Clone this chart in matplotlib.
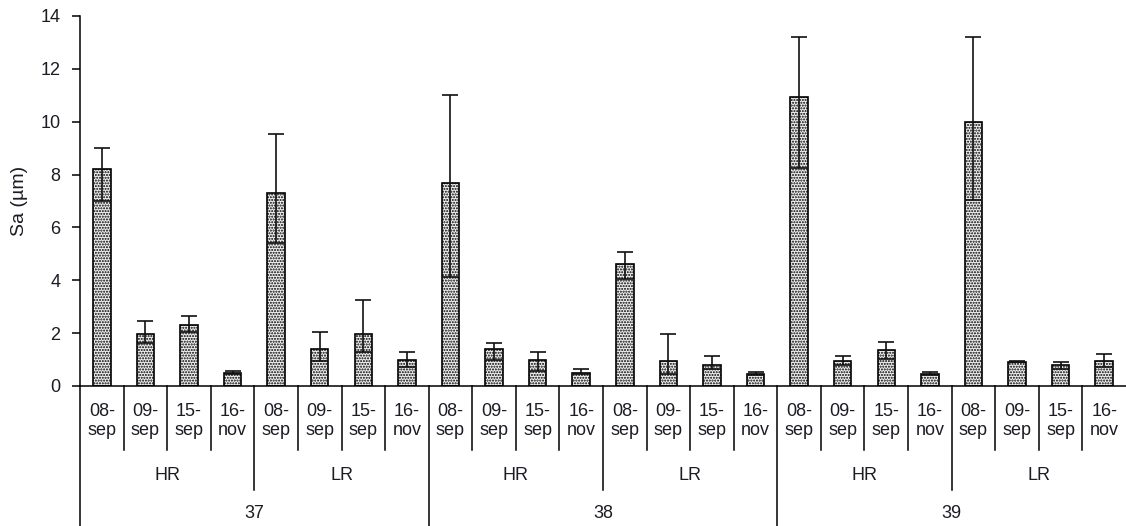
import matplotlib
matplotlib.use("Agg")
import matplotlib.pyplot as plt
import numpy as np

plt.rcParams["font.family"] = ["Liberation Sans", "DejaVu Sans"]
plt.rcParams["hatch.linewidth"] = 1.0
plt.rcParams["hatch.color"] = "#3a3a3a"

# [DATA]
groups = ["37", "38", "39"]
regimes = ["HR", "LR"]
dates = ["08-\nsep", "09-\nsep", "15-\nsep", "16-\nnov"]

sa_mean = [8.2, 1.95, 2.3, 0.5, 7.3, 1.4, 1.95, 0.98,
           7.7, 1.4, 1.0, 0.5, 4.6, 0.93, 0.78, 0.45,
           10.95, 0.93, 1.37, 0.45, 10.0, 0.92, 0.78, 0.93]
sa_high = [9.0, 2.45, 2.65, 0.55, 9.55, 2.05, 3.25, 1.27,
           11.0, 1.62, 1.28, 0.63, 5.07, 1.96, 1.12, 0.54,
           13.2, 1.12, 1.65, 0.54, 13.2, 0.93, 0.92, 1.22]
sa_low = [7.0, 1.62, 2.05, 0.44, 5.4, 0.95, 1.29, 0.72,
          4.14, 0.97, 0.55, 0.45, 4.05, 0.44, 0.64, 0.40,
          8.25, 0.78, 1.02, 0.40, 7.02, 0.91, 0.64, 0.73]

TXT = "#1c1c24"
FS = 13

# [PLOT]
fig = plt.figure(figsize=(11.26, 5.26), dpi=100)
ax = fig.add_axes([80 / 1126, 140 / 526, 1 - 80 / 1126, 370 / 526])

x = np.arange(len(sa_mean))
mean = np.array(sa_mean)
yerr = [mean - np.array(sa_low), np.array(sa_high) - mean]

ax.bar(x, mean, width=0.4, facecolor="#f0f0f0", edgecolor="black",
       linewidth=1.2, hatch="......", zorder=2)
ax.errorbar(x, mean, yerr=yerr, fmt="none", ecolor="#111111",
            elinewidth=1.2, capsize=6, capthick=1.2, zorder=3)

ax.set_xlim(-0.5, len(sa_mean) - 0.5)
ax.set_ylim(0, 14)
ax.set_yticks(range(0, 15, 2))
ax.set_xticks([])
ax.tick_params(axis="y", direction="out", length=6, width=1.1, pad=8,
               labelsize=FS, labelcolor=TXT)
for s in ["top", "right"]:
    ax.spines[s].set_visible(False)
ax.spines["left"].set_linewidth(1.1)
ax.spines["bottom"].set_linewidth(1.1)
ax.set_ylabel("Sa (µm)", fontsize=14, color=TXT, labelpad=9)

# hierarchical category axis below the plot
trans = ax.get_xaxis_transform()
line_kw = dict(color="black", linewidth=1.1, transform=trans, clip_on=False)
n_dates = len(dates)
n_sub = n_dates * len(regimes)

for i in range(len(sa_mean)):
    ax.text(i, -0.095, dates[i % n_dates], ha="center", va="center",
            fontsize=FS, color=TXT, transform=trans, linespacing=1.2)

for b in range(len(sa_mean)):
    xb = b - 0.5
    if b % n_sub == 0:
        ax.plot([xb, xb], [0, -0.38], **line_kw)
    elif b % n_dates == 0:
        ax.plot([xb, xb], [0, -0.281], **line_kw)
    else:
        ax.plot([xb, xb], [0, -0.173], **line_kw)

for g, name in enumerate(groups):
    for r, reg in enumerate(regimes):
        xc = g * n_sub + r * n_dates + (n_dates - 1) / 2
        ax.text(xc, -0.242, reg, ha="center", va="center",
                fontsize=FS, color=TXT, transform=trans)
    xc = g * n_sub + (n_sub - 1) / 2
    ax.text(xc, -0.345, name, ha="center", va="center",
            fontsize=FS, color=TXT, transform=trans)

fig.savefig("out.png", dpi=100)
